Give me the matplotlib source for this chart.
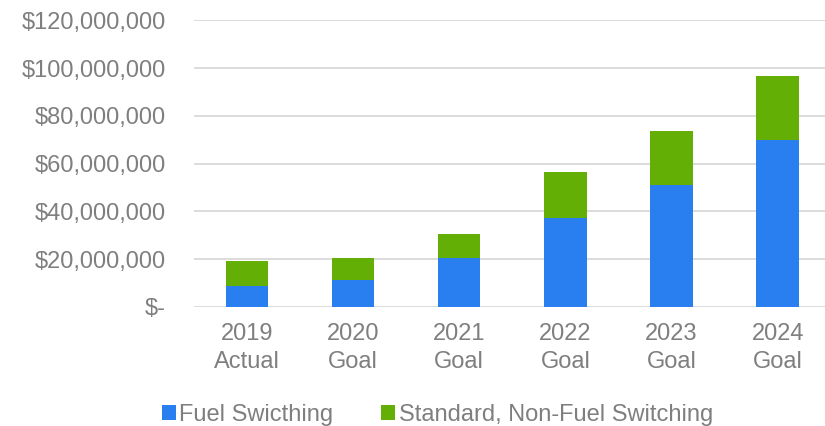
import numpy as np
import matplotlib
matplotlib.use("Agg")
import matplotlib.pyplot as plt
from matplotlib.ticker import FuncFormatter

plt.rcParams['font.family'] = ['Liberation Sans', 'DejaVu Sans']

categories = ["2019\nActual", "2020\nGoal", "2021\nGoal", "2022\nGoal", "2023\nGoal", "2024\nGoal"]
fuel_switching = [8.5e6, 11.4e6, 20.5e6, 37.3e6, 51.0e6, 69.7e6]
standard = [10.8e6, 8.9e6, 10.1e6, 19.2e6, 22.7e6, 27.2e6]

blue = "#2A7FF0"
green = "#64AF05"
grey = "#7F7F7F"

fig = plt.figure(figsize=(8.25, 4.26), dpi=100)
ax = fig.add_axes([0.235, 0.28, 0.772, 0.672])

x = np.arange(len(categories))
ax.bar(x, fuel_switching, width=0.4, color=blue, label="Fuel Swicthing", zorder=3)
ax.bar(x, standard, width=0.4, bottom=fuel_switching, color=green,
       label="Standard, Non-Fuel Switching", zorder=3)

ax.set_xlim(-0.5, 5.5)
ax.set_ylim(0, 120e6)
ax.set_yticks(np.arange(0, 120e6 + 1, 20e6))
ax.yaxis.set_major_formatter(FuncFormatter(lambda v, p: "$-" if v == 0 else "${:,.0f}".format(v)))
ax.set_xticks(x)
ax.set_xticklabels(categories, linespacing=1.35)
ax.grid(axis='y', color="#D9D9D9", linewidth=1.3, zorder=0)
for s in ax.spines.values():
    s.set_visible(False)
ax.tick_params(axis='both', length=0, labelsize=17, labelcolor=grey)
ax.tick_params(axis='x', pad=12)
ax.tick_params(axis='y', pad=20)

leg = fig.legend(loc='lower center', bbox_to_anchor=(0.53, -0.05), ncol=2, frameon=False,
                 fontsize=17, handlelength=0.6, handleheight=0.6, handletextpad=0.15,
                 columnspacing=2.0)
for t in leg.get_texts():
    t.set_color(grey)

fig.savefig("out.png", dpi=100)
